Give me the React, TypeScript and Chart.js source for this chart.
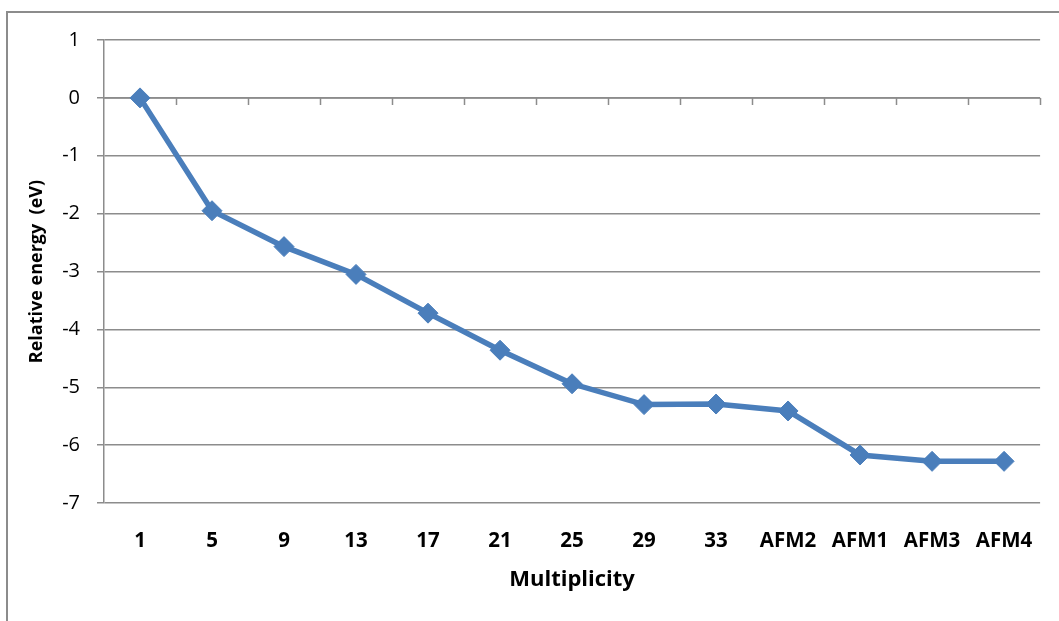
import React, { useEffect, useRef } from "react";
import { Chart, registerables } from "chart.js";

Chart.register(...registerables);

const categories = ["1", "5", "9", "13", "17", "21", "25", "29", "33", "AFM2", "AFM1", "AFM3", "AFM4"];
const energies = [0, -1.95, -2.57, -3.05, -3.72, -4.36, -4.94, -5.3, -5.29, -5.41, -6.17, -6.28, -6.28];
const yMin = -7;
const yMax = 1;
const yStep = 1;
const xTitle = "Multiplicity";
const yTitle = "Relative energy  (eV)";

const GRID = "#8c8c8c";
const BLUE = "#4a7ebb";
const FONT = "'Open Sans', 'Noto Sans', sans-serif";

const frameAndAxis = {
  id: "frameAndAxis",
  beforeDatasetsDraw(chart: any) {
    const ctx = chart.ctx;
    const x = chart.scales.x;
    const y = chart.scales.y;
    const y0 = y.getPixelForValue(0);
    const n = chart.data.labels.length;
    const step = n > 1 ? x.getPixelForValue(1) - x.getPixelForValue(0) : 0;
    ctx.save();
    ctx.strokeStyle = GRID;
    ctx.lineWidth = 1.5;
    ctx.beginPath();
    ctx.moveTo(chart.chartArea.left, y0);
    ctx.lineTo(chart.chartArea.right, y0);
    for (let i = 0; i < n; i++) {
      const px = Math.round(x.getPixelForValue(i) + step / 2) + 0.5;
      ctx.moveTo(px, y0);
      ctx.lineTo(px, y0 + 7);
    }
    ctx.stroke();
    ctx.restore();
  },
  afterDraw(chart: any) {
    const ctx = chart.ctx;
    ctx.save();
    ctx.strokeStyle = "#8c8c8c";
    ctx.lineWidth = 2;
    ctx.strokeRect(7, 12, 1200, 800);
    ctx.restore();
  },
};

export default function App() {
  const ref = useRef<HTMLCanvasElement | null>(null);
  useEffect(() => {
    document.body.style.margin = "0";
    document.body.style.overflow = "hidden";
    const canvas = ref.current;
    if (!canvas) return;
    const chart = new Chart(canvas, {
      type: "line",
      data: {
        labels: categories,
        datasets: [
          {
            data: energies,
            borderColor: BLUE,
            backgroundColor: BLUE,
            borderWidth: 5.5,
            pointStyle: "rectRot",
            pointRadius: 10,
            pointBorderWidth: 1,
            pointBackgroundColor: BLUE,
            pointBorderColor: BLUE,
            tension: 0,
          },
        ],
      },
      options: {
        responsive: false,
        animation: false,
        devicePixelRatio: 1,
        layout: { padding: { top: 40, right: 18, left: 0, bottom: 0 } },
        plugins: { legend: { display: false }, tooltip: { enabled: false } },
        scales: {
          x: {
            type: "category",
            offset: true,
            grid: { display: false, drawTicks: false },
            border: { display: false },
            ticks: {
              color: "#000",
              font: { family: FONT, size: 20.5, weight: "bold" },
              padding: 26,
              maxRotation: 0,
              autoSkip: false,
            },
            title: {
              display: true,
              text: xTitle,
              color: "#000",
              font: { family: FONT, size: 22, weight: "bold" },
              padding: { top: 0, bottom: 28 },
            },
            afterFit(scale: any) {
              scale.height = 118;
            },
          },
          y: {
            type: "linear",
            min: yMin,
            max: yMax,
            ticks: {
              stepSize: yStep,
              color: "#000",
              font: { family: FONT, size: 20 },
              padding: 17,
            },
            grid: {
              color: GRID,
              lineWidth: 1.5,
              drawTicks: true,
              tickLength: 7,
            },
            border: { display: true, color: GRID, width: 1.5 },
            title: {
              display: true,
              text: yTitle,
              color: "#000",
              font: { family: FONT, size: 18, weight: "bold" },
              padding: { top: 26, bottom: 0 },
            },
            afterFit(scale: any) {
              scale.width = 104;
            },
          },
        },
      },
      plugins: [frameAndAxis],
    });
    return () => chart.destroy();
  }, []);
  return (
    <div style={{ width: 1059, height: 621, overflow: "hidden", background: "#fff" }}>
      <canvas ref={ref} width={1059} height={621} style={{ display: "block" }} />
    </div>
  );
}
